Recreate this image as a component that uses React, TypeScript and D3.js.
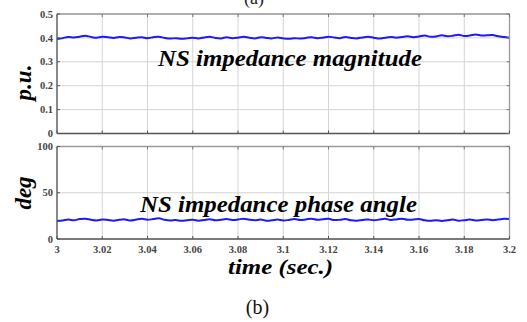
import React from "react";
import * as d3 from "d3";

const xTicks = [3, 3.02, 3.04, 3.06, 3.08, 3.1, 3.12, 3.14, 3.16, 3.18, 3.2];
const xTickLabels = ["3", "3.02", "3.04", "3.06", "3.08", "3.1", "3.12", "3.14", "3.16", "3.18", "3.2"];
const magTicks = [0, 0.1, 0.2, 0.3, 0.4, 0.5];
const magTickLabels = ["0", "0.1", "0.2", "0.3", "0.4", "0.5"];
const phaseTicks = [0, 50, 100];
const phaseTickLabels = ["0", "50", "100"];

const sampleStep = 0.0025;
const magnitude = [
  0.395, 0.399, 0.404, 0.402, 0.405, 0.409, 0.404, 0.401, 0.405, 0.403,
  0.400, 0.404, 0.402, 0.398, 0.401, 0.403, 0.399, 0.403, 0.405, 0.400,
  0.397, 0.399, 0.396, 0.398, 0.401, 0.398, 0.402, 0.405, 0.400, 0.398,
  0.403, 0.399, 0.401, 0.405, 0.401, 0.398, 0.403, 0.400, 0.398, 0.402,
  0.398, 0.396, 0.399, 0.397, 0.400, 0.403, 0.399, 0.401, 0.405, 0.402,
  0.399, 0.404, 0.400, 0.398, 0.402, 0.405, 0.401, 0.397, 0.401, 0.404,
  0.401, 0.404, 0.407, 0.403, 0.406, 0.410, 0.405, 0.406, 0.411, 0.407,
  0.409, 0.413, 0.408, 0.410, 0.414, 0.410, 0.411, 0.412, 0.407, 0.404,
  0.401,
];
const phase = [
  19.5, 20.0, 21.0, 20.3, 21.5, 22.0, 20.8, 20.0, 21.0, 20.5,
  19.8, 20.8, 21.2, 20.0, 21.0, 21.8, 20.8, 21.5, 22.3, 20.8,
  20.0, 20.5, 19.6, 20.2, 20.8, 19.8, 20.5, 21.3, 20.2, 20.8,
  21.5, 20.5, 21.0, 22.0, 20.8, 20.2, 21.0, 19.8, 20.2, 21.0,
  20.0, 20.6, 21.6, 20.5, 21.2, 22.0, 20.8, 21.3, 21.8, 20.5,
  20.8, 21.5, 20.2, 19.8, 20.6, 21.2, 20.2, 21.0, 21.8, 20.6,
  21.2, 22.0, 20.8, 21.0, 21.6, 20.2, 19.6, 20.4, 19.5, 20.2,
  21.0, 19.8, 20.4, 21.0, 20.0, 20.5, 21.2, 20.4, 21.0, 21.8,
  21.5,
];

const W = 527;
const H = 322;
const L = 57;
const R = 509.5;
const serif = "Liberation Serif";

function T(props: any) {
  const { children, ...rest } = props;
  return (
    <text {...rest} style={{ fontFamily: serif }}>
      {children}
    </text>
  );
}

function Panel({ y0, y1, domain, ticks, tickLabels, values, showX }: any) {
  const x = d3.scaleLinear().domain([3, 3.2]).range([L, R]);
  const y = d3.scaleLinear().domain(domain).range([y1, y0]);
  const line = d3
    .line<number>()
    .x((_, i) => x(3 + i * sampleStep))
    .y((d) => y(d))
    .curve(d3.curveCatmullRom);
  return (
    <g>
      {xTicks.map((t, i) => (
        <line key={"gx" + i} x1={x(t)} x2={x(t)} y1={y0} y2={y1} stroke="#d4d4d4" strokeWidth={1} />
      ))}
      {ticks.map((t: number, i: number) => (
        <line key={"gy" + i} x1={L} x2={R} y1={y(t)} y2={y(t)} stroke="#d4d4d4" strokeWidth={1} />
      ))}
      <path d={line(values) || ""} fill="none" stroke="#1a1aff" strokeWidth={2} />
      <line x1={L} x2={R} y1={y0} y2={y0} stroke="#9a9a9a" strokeWidth={1.3} />
      <line x1={R} x2={R} y1={y0} y2={y1} stroke="#9a9a9a" strokeWidth={1.3} />
      <line x1={L} x2={R} y1={y1} y2={y1} stroke="#555" strokeWidth={1.3} />
      <line x1={L} x2={L} y1={y0} y2={y1} stroke="#555" strokeWidth={1.3} />
      {xTicks.map((t, i) => (
        <g key={"tx" + i}>
          <line x1={x(t)} x2={x(t)} y1={y1} y2={y1 - 3} stroke="#555" />
          <line x1={x(t)} x2={x(t)} y1={y0} y2={y0 + 3} stroke="#777" />
        </g>
      ))}
      {ticks.map((t: number, i: number) => (
        <g key={"ty" + i}>
          <line x1={L} x2={L + 3} y1={y(t)} y2={y(t)} stroke="#555" />
          <line x1={R} x2={R - 3} y1={y(t)} y2={y(t)} stroke="#777" />
          <T x={L - 4} y={y(t) + 3.6} textAnchor="end" fontWeight="bold" fontSize={10.5} fill="#444">
            {tickLabels[i]}
          </T>
        </g>
      ))}
      {showX &&
        xTicks.map((t, i) => (
          <T key={"xl" + i} x={x(t)} y={y1 + 14} textAnchor="middle" fontWeight="bold" fontSize={10.5} fill="#444">
            {xTickLabels[i]}
          </T>
        ))}
    </g>
  );
}

export default function App() {
  return (
    <svg width={W} height={H} style={{ position: "absolute", left: 0, top: 0, background: "#fff" }}>
      <rect width={W} height={H} fill="#fff" />
      <T x={254} y={4} textAnchor="middle" fontSize={18} fill="#222">
        (a)
      </T>
      <Panel y0={14} y1={133.5} domain={[0, 0.5]} ticks={magTicks} tickLabels={magTickLabels} values={magnitude} showX={false} />
      <Panel y0={146.5} y1={239} domain={[0, 100]} ticks={phaseTicks} tickLabels={phaseTickLabels} values={phase} showX={true} />
      <T x={158} y={66} fontWeight="bold" fontStyle="italic" fontSize={23} fill="#000" textLength={264} lengthAdjust="spacingAndGlyphs">
        NS impedance magnitude
      </T>
      <T x={140} y={212} fontWeight="bold" fontStyle="italic" fontSize={23} fill="#000" textLength={277} lengthAdjust="spacingAndGlyphs">
        NS impedance phase angle
      </T>
      <T x={228} y={273.5} fontWeight="bold" fontStyle="italic" fontSize={22} fill="#000" textLength={105} lengthAdjust="spacingAndGlyphs">
        time (sec.)
      </T>
      <T transform="translate(31,82.5) rotate(-90)" textAnchor="middle" fontWeight="bold" fontStyle="italic" fontSize={23} fill="#000">
        p.u.
      </T>
      <T transform="translate(31,193) rotate(-90)" textAnchor="middle" fontWeight="bold" fontStyle="italic" fontSize={23} fill="#000">
        deg
      </T>
      <T x={257.5} y={314} textAnchor="middle" fontSize={20} fill="#111">
        (b)
      </T>
    </svg>
  );
}
